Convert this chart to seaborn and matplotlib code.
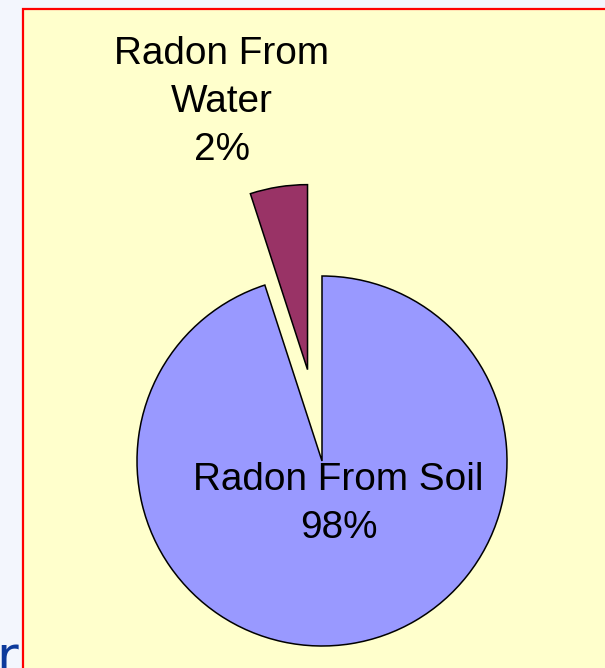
import matplotlib
matplotlib.use("Agg")
import matplotlib.pyplot as plt
import matplotlib.patches as mpatches
import seaborn as sns

# ---- data ----
categories = ["Radon From Soil", "Radon From Water"]
wedge_shares = [95, 5]          # angular size of the wedges as drawn
pct_labels = ["98%", "2%"]      # percentages printed on the chart
colors = ["#9999FF", "#993366"]
explode = [0.0, 0.5]

sns.set_theme(style="white")
plt.rcParams["font.family"] = ["Liberation Sans", "DejaVu Sans"]

W, H = 605, 668
fig = plt.figure(figsize=(W / 100, H / 100), dpi=100)
fig.patch.set_facecolor("#F3F6FD")

# yellow panel with red border
panel = mpatches.Rectangle((22.5 / W, -0.05), 1.2, (H - 9) / H + 0.05,
                           transform=fig.transFigure, facecolor="#FFFFCC",
                           edgecolor="#FF0000", linewidth=1.6, zorder=-10)
fig.patches.append(panel)

# cut-off slide text at the bottom-left
fig.text(-4 / W, -6 / H, "r", color="#0D3A9C", fontsize=38,
         ha="left", va="baseline", family=["DejaVu Sans"])

ax = fig.add_axes([0, 0, 1, 1])
ax.set_facecolor("none")
ax.patch.set_alpha(0)
R = 185.0
cx, cy = 322.0, 461.0
ax.pie(wedge_shares, colors=colors, explode=explode, startangle=90,
       counterclock=False, radius=1.0,
       wedgeprops=dict(edgecolor="black", linewidth=1.1))
ax.set_xlim(-cx / R, (W - cx) / R)
ax.set_ylim(-(H - cy) / R, cy / R)
ax.set_aspect("auto")
ax.axis("off")

fs = 27.9
ax.text(0.089, -0.232, f"{categories[0]}\n{pct_labels[0]}", ha="center",
        va="center", fontsize=fs, color="black", linespacing=1.43)
ax.text(-0.541, 1.943, "Radon From\nWater\n" + pct_labels[1], ha="center",
        va="center", fontsize=fs, color="black", linespacing=1.43)

fig.savefig("out.png", dpi=100, facecolor=fig.get_facecolor())
